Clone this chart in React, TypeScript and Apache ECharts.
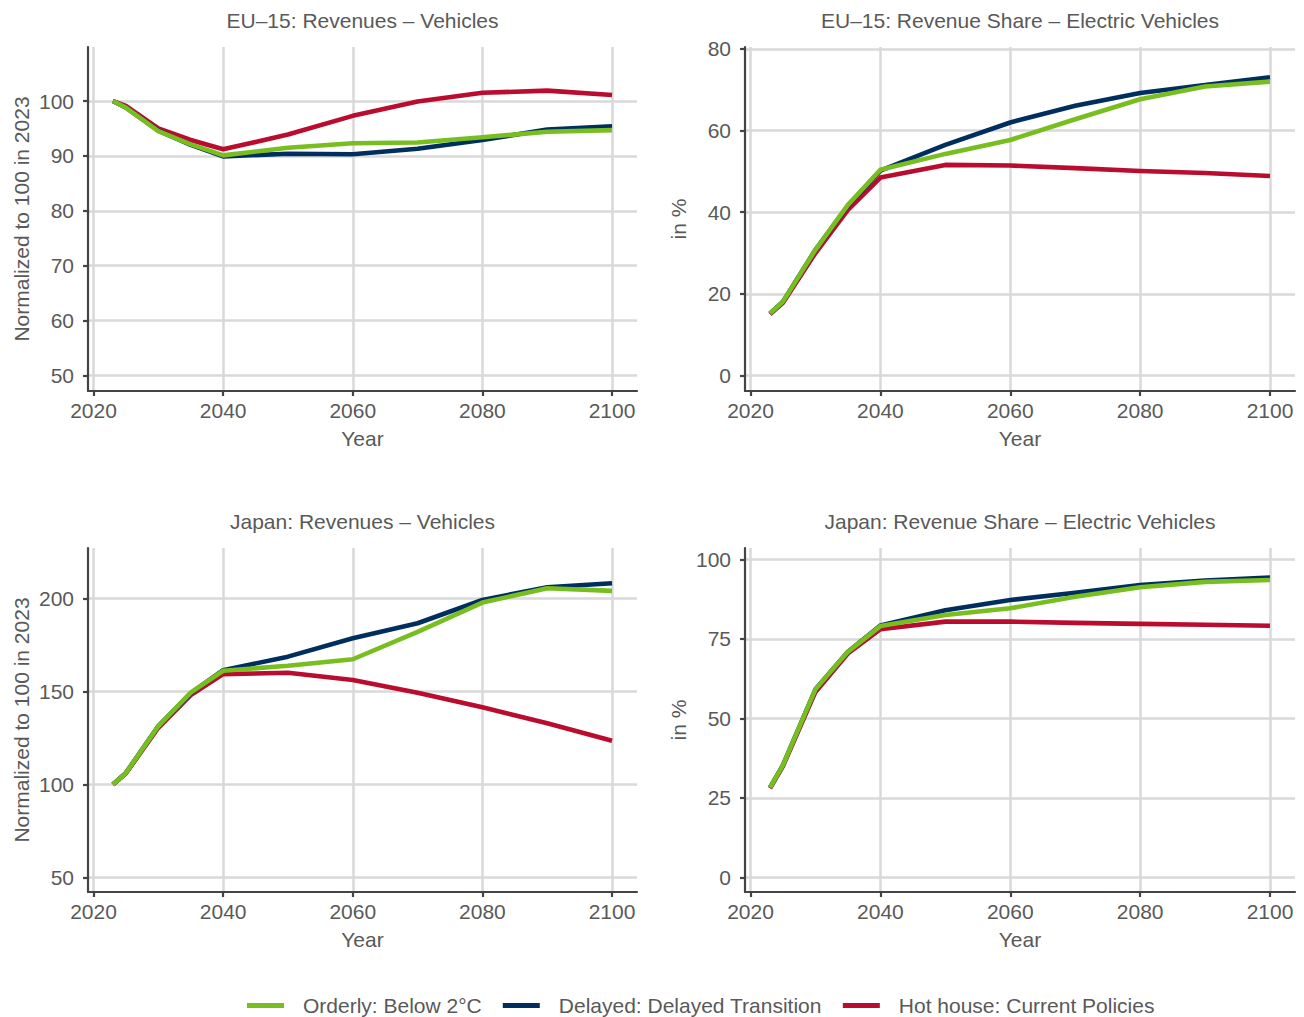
import React, { useEffect, useRef } from "react";
import * as echarts from "echarts";

const YEARS = [2023, 2025, 2030, 2035, 2040, 2050, 2060, 2070, 2080, 2090, 2100];
const X_TICKS = [2020, 2040, 2060, 2080, 2100];

const SCENARIOS = ["Orderly: Below 2°C", "Delayed: Delayed Transition", "Hot house: Current Policies"];
const COLORS = ["#78BE20", "#002F5F", "#BA0C2F"];

const EU_REV_ORDERLY = [100, 98.8, 94.5, 92.1, 90.1, 91.5, 92.3, 92.45, 93.4, 94.4, 94.7];
const EU_REV_DELAYED = [100, 98.8, 94.6, 92.0, 89.9, 90.4, 90.3, 91.3, 92.9, 94.8, 95.4];
const EU_REV_HOTHOUSE = [100, 99.1, 95.0, 92.9, 91.2, 93.9, 97.3, 99.9, 101.5, 101.9, 101.1];

const EU_SHARE_ORDERLY = [15.2, 18.1, 30.8, 41.8, 50.4, 54.3, 57.7, 62.8, 67.7, 70.8, 72.0];
const EU_SHARE_DELAYED = [15.2, 18.1, 30.8, 41.6, 50.2, 56.5, 62.0, 66.1, 69.2, 71.2, 73.1];
const EU_SHARE_HOTHOUSE = [15.0, 17.8, 30.0, 40.6, 48.5, 51.6, 51.45, 50.8, 50.1, 49.6, 48.9];

const JP_REV_ORDERLY = [100, 106.2, 131.4, 149.4, 161.2, 163.9, 167.4, 182.2, 197.9, 205.6, 204.2];
const JP_REV_DELAYED = [100, 106.2, 131.4, 149.2, 161.5, 168.8, 178.7, 186.8, 199.3, 206.2, 208.3];
const JP_REV_HOTHOUSE = [100, 106.0, 130.5, 148.1, 159.4, 160.1, 156.2, 149.4, 141.5, 132.9, 123.5];

const JP_SHARE_ORDERLY = [28.2, 35.3, 59.1, 70.9, 79.0, 82.5, 84.6, 88.2, 91.2, 92.9, 93.5];
const JP_SHARE_DELAYED = [28.2, 35.3, 59.1, 70.9, 79.2, 84.0, 87.2, 89.5, 91.9, 93.3, 94.3];
const JP_SHARE_HOTHOUSE = [28.0, 35.0, 58.3, 70.4, 78.0, 80.4, 80.4, 80.0, 79.7, 79.4, 79.1];

const PANEL_TITLES = [
  "EU\u201315: Revenues \u2013 Vehicles",
  "EU\u201315: Revenue Share \u2013 Electric Vehicles",
  "Japan: Revenues \u2013 Vehicles",
  "Japan: Revenue Share \u2013 Electric Vehicles",
];
const Y_TITLES = ["Normalized to 100 in 2023", "in %", "Normalized to 100 in 2023", "in %"];
const X_TITLE = "Year";

const Y_TICKS = [
  [50, 60, 70, 80, 90, 100],
  [0, 20, 40, 60, 80],
  [50, 100, 150, 200],
  [0, 25, 50, 75, 100],
];

const PANEL_DATA = [
  [EU_REV_ORDERLY, EU_REV_DELAYED, EU_REV_HOTHOUSE],
  [EU_SHARE_ORDERLY, EU_SHARE_DELAYED, EU_SHARE_HOTHOUSE],
  [JP_REV_ORDERLY, JP_REV_DELAYED, JP_REV_HOTHOUSE],
  [JP_SHARE_ORDERLY, JP_SHARE_DELAYED, JP_SHARE_HOTHOUSE],
];

// layout (page pixels)
const GRIDS = [
  { left: 88, top: 47, width: 549, height: 344 },
  { left: 745, top: 47, width: 550, height: 344 },
  { left: 88, top: 548, width: 549, height: 344 },
  { left: 745, top: 548, width: 550, height: 344 },
];
const Y_RANGES = [
  [47.15, 109.85],
  [-3.8, 80.49],
  [42.08, 227.3],
  [-4.63, 103.56],
];
const X_RANGE = [2019.15, 2103.85];

const FONT = "Liberation Sans, Arial, Helvetica, sans-serif";
const TEXT_COLOR = "#595959";
const AXIS_COLOR = "#444444";
const GRID_COLOR = "#d9d9d9";

export default function App() {
  const ref = useRef<HTMLDivElement>(null);

  useEffect(() => {
    if (!ref.current) return;
    const chart = echarts.init(ref.current, undefined, { renderer: "svg" });

    const xAxes = GRIDS.map((_, i) => ({
      type: "value",
      gridIndex: i,
      min: X_RANGE[0],
      max: X_RANGE[1],
      axisLine: { show: true, onZero: false, lineStyle: { color: AXIS_COLOR, width: 2.2 } },
      axisTick: { show: true, length: 5, customValues: X_TICKS, lineStyle: { color: AXIS_COLOR, width: 2.2 } },
      axisLabel: {
        show: true,
        customValues: X_TICKS,
        margin: 9,
        fontSize: 21,
        fontFamily: FONT,
        color: TEXT_COLOR,
        formatter: (v: number) => String(v),
      },
      splitLine: { show: true, lineStyle: { color: GRID_COLOR, width: 2.5 } },
    }));

    const yAxes = GRIDS.map((_, i) => ({
      type: "value",
      gridIndex: i,
      min: Y_RANGES[i][0],
      max: Y_RANGES[i][1],
      axisLine: { show: true, onZero: false, lineStyle: { color: AXIS_COLOR, width: 2.2 } },
      axisTick: { show: true, length: 5, customValues: Y_TICKS[i], lineStyle: { color: AXIS_COLOR, width: 2.2 } },
      axisLabel: {
        show: true,
        customValues: Y_TICKS[i],
        margin: 14,
        fontSize: 21,
        fontFamily: FONT,
        color: TEXT_COLOR,
        formatter: (v: number) => String(v),
      },
      splitLine: { show: true, lineStyle: { color: GRID_COLOR, width: 2.5 } },
    }));

    const series: any[] = [];
    PANEL_DATA.forEach((panel, pi) => {
      // draw order: hot house, delayed, orderly (orderly on top)
      [2, 1, 0].forEach((si) => {
        series.push({
          type: "line",
          name: SCENARIOS[si],
          xAxisIndex: pi,
          yAxisIndex: pi,
          showSymbol: false,
          symbol: "none",
          color: COLORS[si],
          lineStyle: { color: COLORS[si], width: 4.6, cap: "butt", join: "round" },
          data: YEARS.map((y, k) => [y, panel[si][k]]),
          z: 3 + (2 - si),
        });
      });
    });

    const graphics: any[] = [];
    GRIDS.forEach((g, i) => {
      graphics.push({
        type: "text",
        x: g.left + g.width / 2,
        y: i < 2 ? 20 : 521,
        style: {
          text: PANEL_TITLES[i],
          fontSize: 21,
          fontFamily: FONT,
          fill: TEXT_COLOR,
          align: "center",
          verticalAlign: "middle",
        },
      });
      graphics.push({
        type: "text",
        x: g.left + g.width / 2,
        y: g.top + g.height + 47,
        style: {
          text: X_TITLE,
          fontSize: 21,
          fontFamily: FONT,
          fill: TEXT_COLOR,
          align: "center",
          verticalAlign: "middle",
        },
      });
      graphics.push({
        type: "text",
        x: i % 2 === 0 ? 21 : 678,
        y: g.top + g.height / 2,
        rotation: Math.PI / 2,
        style: {
          text: Y_TITLES[i],
          fontSize: 21,
          fontFamily: FONT,
          fill: TEXT_COLOR,
          align: "center",
          verticalAlign: "middle",
        },
      });
    });

    chart.setOption({
      animation: false,
      backgroundColor: "#ffffff",
      grid: GRIDS.map((g) => ({ ...g, containLabel: false, outerBoundsMode: "none" })),
      xAxis: xAxes,
      yAxis: yAxes,
      legend: {
        show: true,
        left: 247,
        top: 995,
        padding: 0,
        itemWidth: 37,
        itemHeight: 5,
        itemGap: 21,
        icon: "rect",
        data: SCENARIOS.map((name, i) => ({ name, itemStyle: { color: COLORS[i] } })),
        textStyle: { fontSize: 21, fontFamily: FONT, color: TEXT_COLOR, padding: [0, 0, 0, 14] },
      },
      graphic: graphics,
      series,
    });

    return () => chart.dispose();
  }, []);

  return (
    <div
      ref={ref}
      style={{ position: "absolute", left: 0, top: 0, width: 1304, height: 1017, background: "#fff" }}
    />
  );
}
